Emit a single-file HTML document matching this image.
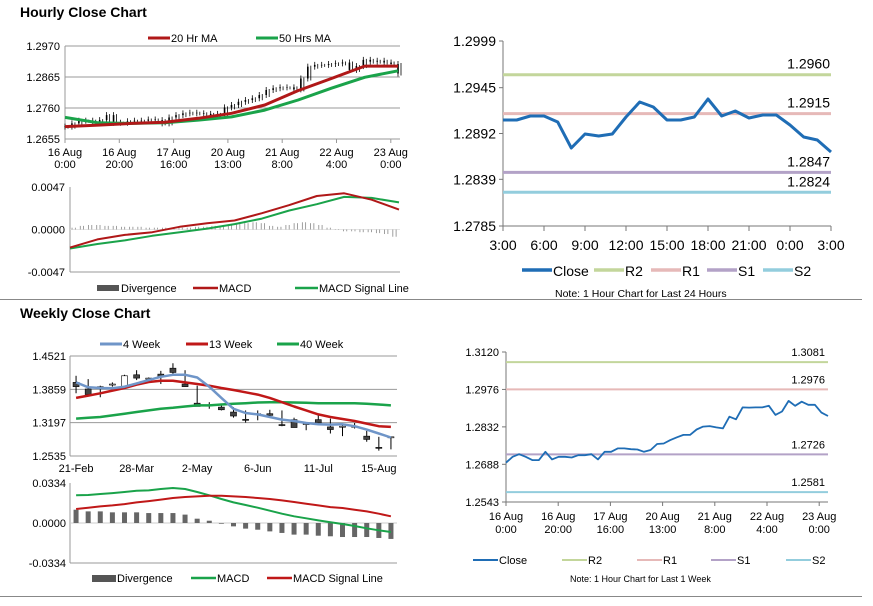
<!DOCTYPE html>
<html><head><meta charset="utf-8"><style>
body{margin:0;background:#fff;width:873px;height:601px;overflow:hidden;font-family:"Liberation Sans",Arial,sans-serif}
svg text{font-family:"Liberation Sans",Arial,sans-serif}
</style></head><body>
<svg id="c" width="873" height="601" xmlns="http://www.w3.org/2000/svg">
<text x="20" y="17" font-size="14" font-weight="bold">Hourly Close Chart</text>
<text x="20" y="318" font-size="14" font-weight="bold">Weekly Close Chart</text>
<line x1="0" y1="299.5" x2="862" y2="299.5" stroke="#888" stroke-width="1"/>
<line x1="0" y1="596.5" x2="862" y2="596.5" stroke="#888" stroke-width="1"/>
</svg>
<script>
// ---------- DATA ----------
const hCloses=[1.2697,1.2708,1.2717,1.2717,1.2710,1.2719,1.2736,1.2710,1.2710,1.2715,1.2717,1.2717,1.2721,1.2719,1.2708,1.2728,1.2736,1.2742,1.2744,1.2742,1.2740,1.2736,1.2740,1.2762,1.2770,1.2781,1.2787,1.2793,1.2804,1.2821,1.2827,1.2830,1.2830,1.2823,1.2860,1.2900,1.2906,1.2906,1.2909,1.2911,1.2914,1.2889,1.2902,1.2923,1.2917,1.2920,1.2914,1.2909,1.2877];
const hMA20=[1.2697,1.2702,1.2708,1.2712,1.2725,1.2742,1.2770,1.2819,1.2860,1.2902,1.2902];
const hMA50=[1.2728,1.2710,1.2708,1.2710,1.2719,1.2730,1.2753,1.2787,1.2827,1.2864,1.2886];
const hTicks=[1.2655,1.2760,1.2865,1.2970];
const hTickLabels=["1.2655","1.2760","1.2865","1.2970"];
const hXLabels=[["16 Aug","0:00"],["16 Aug","20:00"],["17 Aug","16:00"],["20 Aug","13:00"],["21 Aug","8:00"],["22 Aug","4:00"],["23 Aug","0:00"]];
const hMacd=[-0.0020,-0.0011,-0.0006,-0.0003,0.0003,0.0007,0.0010,0.0018,0.0027,0.0037,0.0040,0.0033,0.0022];
const hSignal=[-0.0021,-0.0016,-0.0012,-0.0007,-0.0003,0.0001,0.0006,0.0012,0.0021,0.0028,0.0036,0.0035,0.0030];
const hDiv=[0.0002,0.0004,0.0005,0.0005,0.0004,0.0004,0.0003,0.0003,0.0003,0.0002,0.0002,0.0002,0.0001,0.0002,0.0002,0.0003,0.0003,0.0004,0.0004,0.0005,0.0006,0.0007,0.0008,0.0007,0.0004,0.0003,0.0005,0.0007,0.0008,0.0007,0.0005,0.0002,0.0000,-0.0002,-0.0002,-0.0003,-0.0003,-0.0004,-0.0005,-0.0008];
const dCloses=[1.29076,1.29076,1.29122,1.29122,1.29053,1.28752,1.28914,1.28891,1.28914,1.29111,1.29284,1.29226,1.29076,1.29076,1.29111,1.29319,1.29122,1.2918,1.29099,1.29134,1.29134,1.29018,1.28879,1.28845,1.28706];
const dXLabels=["3:00","6:00","9:00","12:00","15:00","18:00","21:00","0:00","3:00"];
const dTicks=[1.2785,1.2839,1.2892,1.2945,1.2999];
const dLevels=[1.2960,1.2915,1.2847,1.2824];
const wkCloses=[1.2694,1.2717,1.2727,1.2717,1.2704,1.2704,1.2736,1.2707,1.2717,1.2717,1.2714,1.2723,1.2723,1.2727,1.2707,1.2736,1.2736,1.2749,1.2749,1.2746,1.2745,1.2736,1.2743,1.2766,1.2768,1.2781,1.2792,1.2801,1.2801,1.2822,1.2833,1.2835,1.2830,1.2826,1.2871,1.2861,1.2907,1.2906,1.2907,1.2907,1.2913,1.2878,1.2891,1.2932,1.2913,1.2929,1.2917,1.2917,1.2887,1.2874];
const wkTicks=[1.2543,1.2688,1.2832,1.2976,1.3120];
const wkTickLabels=["1.2543","1.2688","1.2832","1.2976","1.3120"];
const wkLevels=[1.3081,1.2976,1.2726,1.2581];
const wOpen=[1.3997,1.3866,1.3912,1.3964,1.3899,1.4148,1.4082,1.4161,1.4279,1.3964,1.3584,1.3552,1.3506,1.3408,1.3263,1.3375,1.3375,1.3159,1.3257,1.3178,1.3257,1.3113,1.3126,1.3126,1.2929,1.2707,1.2916];
const wClose=[1.3912,1.3755,1.3912,1.3964,1.4128,1.4082,1.4082,1.4108,1.4194,1.3912,1.3519,1.3552,1.3453,1.3329,1.3244,1.3375,1.3342,1.3139,1.3100,1.3178,1.3191,1.3060,1.3126,1.3126,1.2864,1.2687,1.2916];
const wHigh=[1.4128,1.4062,1.3931,1.3997,1.4148,1.4239,1.4095,1.4226,1.4377,1.4239,1.3931,1.3604,1.3539,1.3506,1.3440,1.3440,1.3453,1.3440,1.3296,1.3211,1.3355,1.3277,1.3165,1.3191,1.3034,1.2916,1.2916];
const wLow=[1.3781,1.3735,1.3702,1.3912,1.3886,1.4043,1.3997,1.3964,1.4161,1.3912,1.3519,1.3473,1.3440,1.3296,1.3198,1.3244,1.3296,1.3126,1.3100,1.3047,1.3165,1.2982,1.2929,1.3080,1.2818,1.2641,1.2667];
const w4=[1.3997,1.3899,1.3886,1.3879,1.3912,1.3977,1.4043,1.4108,1.4148,1.4148,1.4095,1.3912,1.3689,1.3473,1.3388,1.3362,1.3309,1.3257,1.3231,1.3191,1.3165,1.3159,1.3165,1.3126,1.3060,1.2982,1.2903];
const w13=[1.3689,1.3735,1.3781,1.3833,1.3886,1.3951,1.4004,1.4030,1.4030,1.3997,1.3964,1.3931,1.3886,1.3846,1.3800,1.3755,1.3689,1.3604,1.3519,1.3440,1.3362,1.3309,1.3270,1.3231,1.3178,1.3126,1.3113];
const w40=[1.3277,1.3296,1.3309,1.3342,1.3375,1.3408,1.3440,1.3473,1.3493,1.3519,1.3539,1.3539,1.3558,1.3571,1.3584,1.3597,1.3604,1.3604,1.3597,1.3591,1.3584,1.3584,1.3584,1.3584,1.3571,1.3558,1.3539];
const wTicks=[1.2535,1.3197,1.3859,1.4521];
const wXLabels=["21-Feb","28-Mar","2-May","6-Jun","11-Jul","15-Aug"];
const wXIdx=[0,5,10,15,20,25];
const wMacd=[0.0231,0.0234,0.0242,0.0250,0.0259,0.0270,0.0272,0.0284,0.0292,0.0284,0.0259,0.0231,0.0200,0.0172,0.0150,0.0128,0.0103,0.0078,0.0056,0.0039,0.0022,0.0006,-0.0008,-0.0025,-0.0044,-0.0061,-0.0075];
const wSignal=[0.0117,0.0128,0.0139,0.0147,0.0158,0.0172,0.0183,0.0195,0.0209,0.0217,0.0222,0.0228,0.0228,0.0222,0.0217,0.0209,0.0200,0.0189,0.0175,0.0161,0.0147,0.0133,0.0125,0.0111,0.0097,0.0078,0.0056];
const wDiv=[0.0111,0.0097,0.0097,0.0089,0.0089,0.0089,0.0083,0.0083,0.0083,0.0070,0.0036,0.0019,-0.0006,-0.0028,-0.0047,-0.0056,-0.0070,-0.0083,-0.0097,-0.0097,-0.0106,-0.0111,-0.0117,-0.0117,-0.0117,-0.0125,-0.0133];

// ---------- HELPERS ----------
const svg=document.getElementById('c');const NS='http://www.w3.org/2000/svg';
function mk(t,a,txt){const e=document.createElementNS(NS,t);for(const k in a)e.setAttribute(k,a[k]);if(txt!==undefined)e.textContent=txt;svg.appendChild(e);return e;}
function lin(d0,d1,r0,r1){return v=>r0+(v-d0)/(d1-d0)*(r1-r0);}
function poly(xs,ys,color,w,name){const p=xs.map((x,i)=>x.toFixed(1)+','+ys[i].toFixed(1)).join(' ');const e=mk('polyline',{points:p,fill:'none',stroke:color,'stroke-width':w,'stroke-linejoin':'round'});

return e;}
function txt(x,y,s,size,anchor,name,color){const e=mk('text',{x:x,y:y,'font-size':size,'text-anchor':anchor||'start',fill:color||'#000'},s);

return e;}
function hl(x1,x2,y,color,w,name){const e=mk('line',{x1:x1,x2:x2,y1:y,y2:y,stroke:color,'stroke-width':w});

return e;}
function vl(x,y1,y2,color,w,name){const e=mk('line',{x1:x,x2:x,y1:y1,y2:y2,stroke:color,'stroke-width':w});

return e;}
function rect(x,y,w,h,fill,name,stroke){const e=mk('rect',{x:x,y:y,width:Math.max(w,0.5),height:Math.max(h,0.5),fill:fill,stroke:stroke||'none','stroke-width':0.6});

return e;}
function legLine(x,y,color,w,label,name,len){hl(x,x+(len||22),y,color,w,name+'-swatch');txt(x+(len||22)+1,y+4,label,11,'start',name);}

// ---------- PANEL 1: hourly candles ----------
(function(){
const X0=65,X1=398,yS=lin(1.2655,1.2970,139,46);
hTicks.forEach((t,i)=>{hl(X0,400,yS(t),'#999',1,'h-gridline');txt(X0-5,yS(t)+4,hTickLabels[i],11,'end','h-y-tick');});
vl(X0,46,139,'#999',1,'h-y-axis');
const xs=hCloses.map((_,i)=>X0+i*(X1-X0)/(hCloses.length-1));
hXLabels.forEach((l,i)=>{const x=X0+i*54.3;vl(x,139,143,'#999',1,'h-x-tick');txt(x,156,l[0],11,'middle','h-x-label');txt(x,168,l[1],11,'middle','h-x-label');});
hCloses.forEach((c,i)=>{const o=i?hCloses[i-1]:c;const y1=yS(Math.max(o,c)),y2=yS(Math.min(o,c));vl(xs[i],y1-3,y2+3,'#000',0.8,'h-candle-wick');vl(xs[i]+3,y1-1,y2+2,'#000',0.8,'h-candle-wick');rect(xs[i]-0.8,y1,1.6,y2-y1,'#000','h-candle-body');});
const mx=hMA20.map((_,i)=>X0+i*(X1-X0)/(hMA20.length-1));
poly(mx,hMA50.map(yS),'#1aa34a',3,'h-ma50-line');
poly(mx,hMA20.map(yS),'#b01818',3,'h-ma20-line');
legLine(148,38,'#b01818',3,'20 Hr MA','h-legend-ma20');legLine(256,38,'#1aa34a',3,'50 Hrs MA','h-legend-ma50');
})();
// ---------- PANEL 2: hourly MACD ----------
(function(){
const X0=70,X1=399,yS=lin(-0.0047,0.0047,272,187);
[[0.0047,'0.0047'],[0,'0.0000'],[-0.0047,'-0.0047']].forEach(t=>{txt(X0-5,yS(t[0])+4,t[1],11,'end','hm-y-tick');});
vl(X0,187,272,'#999',1,'hm-y-axis');hl(X0,400,272,'#999',1,'hm-x-axis');hl(X0,400,yS(0),'#ddd',0.8,'hm-zero-line');
const bw=(X1-X0)/hDiv.length;
hDiv.forEach((d,i)=>{const x=X0+i*bw;const y=yS(Math.max(d,0)),h=Math.abs(yS(d)-yS(0));rect(x+bw*0.2,y,0.8,h,'#888','hm-divergence-bar');rect(x+bw*0.6,y,0.8,h,'#888','hm-divergence-bar');});
const mx=hMacd.map((_,i)=>X0+i*(X1-X0)/(hMacd.length-1));
poly(mx,hSignal.map(yS),'#1aa34a',2,'hm-signal-line');
poly(mx,hMacd.map(yS),'#b01818',2,'hm-macd-line');
rect(97,285,22,6,'#555','hm-legend-div-swatch');txt(121,292,'Divergence',11,'start','hm-legend-divergence');
legLine(193,288,'#b01818',2.5,'MACD','hm-legend-macd',25);legLine(295,288,'#1aa34a',2.5,'MACD Signal Line','hm-legend-signal',23);
})();
// ---------- PANEL 3: 24h close ----------
(function(){
const X0=503,X1=831,yS=lin(1.2785,1.2999,226,41);
vl(X0,41,226,'#777',1,'d-y-axis');hl(X0,X1,226,'#777',1,'d-x-axis');
dTicks.forEach(t=>{hl(X0-4,X0,yS(t),'#777',1,'d-y-tick-mark');txt(X0-7,yS(t)+5,t.toFixed(4),14,'end','d-y-tick');});
dXLabels.forEach((l,i)=>{const x=X0+i*(X1-X0)/8;vl(x,226,231,'#777',1,'d-x-tick');txt(x,250,l,14,'middle','d-x-label');});
const cols=['#c3d69b','#e6b9b8','#b3a2c7','#93cddd'];const nm=['r2','r1','s1','s2'];
dLevels.forEach((v,i)=>{hl(X0,X1,yS(v),cols[i],3,'d-'+nm[i]+'-line');txt(X1-1,yS(v)-6,v.toFixed(4),14,'end','d-'+nm[i]+'-label');});
const xs=dCloses.map((_,i)=>X0+i*(X1-X0)/(dCloses.length-1));
poly(xs,dCloses.map(yS),'#1f6db5',3,'d-close-line');
const L=[['Close','#1f6db5',522],['R2','#c3d69b',594],['R1','#e6b9b8',651],['S1','#b3a2c7',707],['S2','#93cddd',763]];
L.forEach(l=>{hl(l[2],l[2]+30,270,l[1],3.5,'d-legend-swatch');txt(l[2]+31,276,l[0],14,'start','d-legend-'+l[0].toLowerCase());});
txt(555,297,'Note: 1 Hour Chart for Last 24 Hours',10.5,'start','d-note');
})();
// ---------- PANEL 4: 1 week close ----------
(function(){
const X0=506,X1=828,yS=lin(1.2543,1.3120,502,352);
vl(X0,352,502,'#777',1,'wk-y-axis');hl(X0,X1,502,'#777',1,'wk-x-axis');
wkTicks.forEach((t,i)=>{hl(X0-4,X0,yS(t),'#777',1,'wk-y-tick-mark');txt(X0-7,yS(t)+4,wkTickLabels[i],11,'end','wk-y-tick');});
hXLabels.forEach((l,i)=>{const x=X0+i*52.2;vl(x,502,506,'#777',1,'wk-x-tick');txt(x,520,l[0],11,'middle','wk-x-label');txt(x,533,l[1],11,'middle','wk-x-label');});
const cols=['#c3d69b','#e6b9b8','#b3a2c7','#93cddd'];const nm=['r2','r1','s1','s2'];
wkLevels.forEach((v,i)=>{hl(X0,X1,yS(v),cols[i],2,'wk-'+nm[i]+'-line');txt(X1-3,yS(v)-6,v.toFixed(4),11,'end','wk-'+nm[i]+'-label');});
const xs=wkCloses.map((_,i)=>X0+i*(X1-X0)/(wkCloses.length-1));
poly(xs,wkCloses.map(yS),'#1f6db5',1.8,'wk-close-line');
const L=[['Close','#1f6db5',473],['R2','#c3d69b',562],['R1','#e6b9b8',637],['S1','#b3a2c7',711],['S2','#93cddd',786]];
L.forEach(l=>{hl(l[2],l[2]+25,560,l[1],2,'wk-legend-swatch');txt(l[2]+26,564,l[0],11,'start','wk-legend-'+l[0].toLowerCase());});
txt(570,582,'Note: 1 Hour Chart for Last 1 Week',9,'start','wk-note');
})();
// ---------- PANEL 5: weekly candles ----------
(function(){
const X0=70,X1=397,yS=lin(1.2535,1.4521,456,356);
const step=(X1-X0)/wOpen.length,cx=i=>X0+step*(i+0.5);
wTicks.forEach(t=>{hl(X0,X1,yS(t),'#999',1,'w-gridline');txt(X0-4,yS(t)+4,t.toFixed(4),11,'end','w-y-tick');});
vl(X0,356,456,'#999',1,'w-y-axis');
wXLabels.forEach((l,i)=>{txt(cx(wXIdx[i]),472,l,11,'middle','w-x-label');});
wOpen.forEach((o,i)=>{const c=wClose[i];vl(cx(i),yS(wHigh[i]),yS(wLow[i]),'#000',1,'w-candle-wick');const y1=yS(Math.max(o,c)),y2=yS(Math.min(o,c));rect(cx(i)-3,y1,6,Math.max(y2-y1,1),o>c?'#444':'#fff','w-candle-body','#000');});
const xs=w4.map((_,i)=>cx(i));
poly(xs,w40.map(yS),'#1aa34a',2.5,'w-40wk-line');
poly(xs,w13.map(yS),'#c01818',2.5,'w-13wk-line');
poly(xs,w4.map(yS),'#6f95c8',2.5,'w-4wk-line');
legLine(100,344,'#6f95c8',3,'4 Week','w-legend-4wk');legLine(186,344,'#c01818',3,'13 Week','w-legend-13wk');legLine(277,344,'#1aa34a',3,'40 Week','w-legend-40wk');
})();
// ---------- PANEL 6: weekly MACD ----------
(function(){
const X0=70,X1=397,yS=lin(-0.0334,0.0334,563,483);
const step=(X1-X0)/wDiv.length,cx=i=>X0+step*(i+0.5);
[[0.0334,'0.0334'],[0,'0.0000'],[-0.0334,'-0.0334']].forEach(t=>{txt(X0-4,yS(t[0])+4,t[1],11,'end','wm-y-tick');});
vl(X0,483,563,'#999',1,'wm-y-axis');hl(X0,X1,563,'#999',1,'wm-x-axis');hl(X0,X1,yS(0),'#ccc',1,'wm-zero-line');
wDiv.forEach((d,i)=>{const y=yS(Math.max(d,0)),h=Math.abs(yS(d)-yS(0));rect(cx(i)-2.5,y,5,h,'#666','wm-divergence-bar');});
const xs=wMacd.map((_,i)=>cx(i));
poly(xs,wMacd.map(yS),'#1aa34a',2,'wm-macd-line');
poly(xs,wSignal.map(yS),'#c01818',2,'wm-signal-line');
rect(92,575,24,7,'#555','wm-legend-div-swatch');txt(117,582,'Divergence',11,'start','wm-legend-divergence');
legLine(191,578,'#1aa34a',2.5,'MACD','wm-legend-macd',25);legLine(267,578,'#c01818',2.5,'MACD Signal Line','wm-legend-signal',25);
})();
</script>
</body></html>
